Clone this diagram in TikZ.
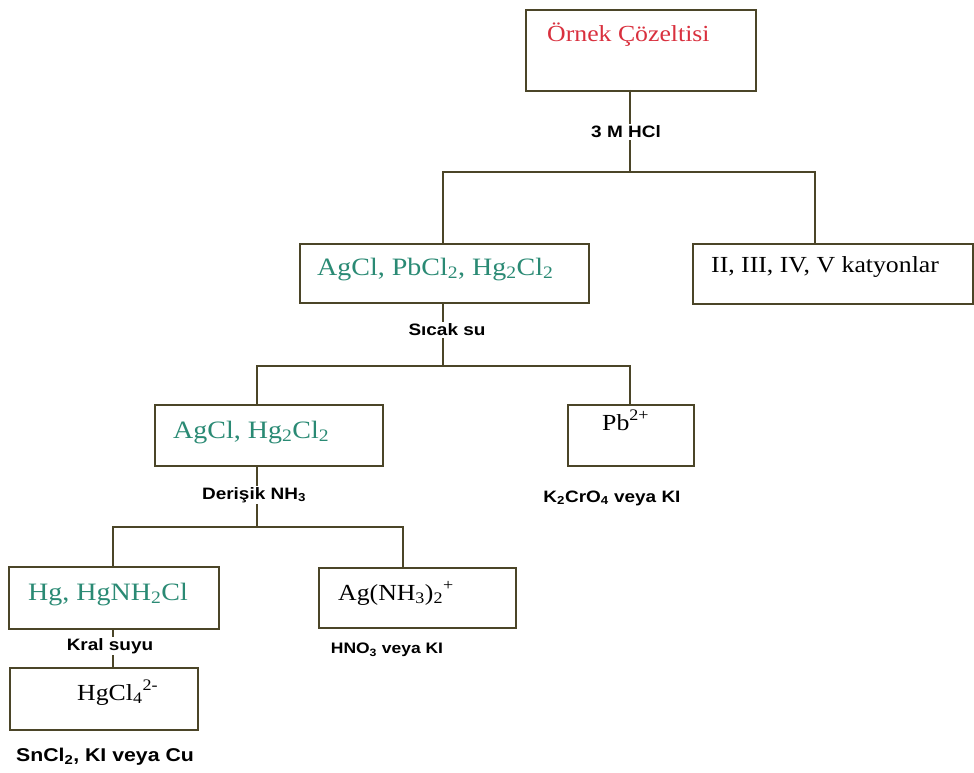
\documentclass[tikz,border=0pt]{standalone}
\usepackage{fontspec}
\newfontfamily\bxf[FakeStretch=1.12]{Liberation Serif}
\newfontfamily\lbf[FakeStretch=1.15]{Liberation Sans}
\definecolor{brd}{HTML}{4B4528}
\definecolor{rd}{HTML}{D9303E}
\definecolor{grn}{HTML}{2A8A74}
\begin{document}
\begin{tikzpicture}[x=1pt,y=-1pt,
  bx/.style={draw=brd, line width=1.8pt, rectangle, inner sep=0pt, anchor=north west},
  ln/.style={draw=brd, line width=1.5pt},
  lab/.style={fill=white, inner sep=1.5pt, text=black, font=\lbf\bfseries\fontsize{16.5}{18}\selectfont},
  tb/.style={anchor=base west, inner sep=0pt, text=black, font=\bxf\fontsize{23}{26}\selectfont},
  tg/.style={tb, text=grn, font=\bxf\fontsize{25}{28}\selectfont}]
\fill[white] (0,0) rectangle (974,773);
\useasboundingbox (0,0) rectangle (974,773);

% boxes
\node[bx, minimum width=230pt, minimum height=81pt] (top) at (525,9) {};
\node[bx, minimum width=289pt, minimum height=59pt] (agpb) at (299,243) {};
\node[bx, minimum width=280pt, minimum height=60pt] (rest) at (692,243) {};
\node[bx, minimum width=228pt, minimum height=61pt] (aghg) at (154,404) {};
\node[bx, minimum width=126pt, minimum height=61pt] (pb) at (567,404) {};
\node[bx, minimum width=210pt, minimum height=62pt] (hg) at (8,566) {};
\node[bx, minimum width=197pt, minimum height=60pt] (ag) at (318,567) {};
\node[bx, minimum width=188pt, minimum height=62pt] (hgcl) at (9,667) {};

% box texts
\node[tb, text=rd] (ttop) at (547,42) {Örnek Çözeltisi};
\node[tg] (tagpb) at (317,275) {AgCl, PbCl\textsubscript{2}, Hg\textsubscript{2}Cl\textsubscript{2}};
\node[tb] (trest) at (711,272) {II, III, IV, V katyonlar};
\node[tg] (taghg) at (173,438) {AgCl, Hg\textsubscript{2}Cl\textsubscript{2}};
\node[tb] (tpb) at (602,430) {Pb\textsuperscript{2+}};
\node[tg] (thg) at (28,600) {Hg, HgNH\textsubscript{2}Cl};
\node[tb] (tag) at (338,600) {Ag(NH\textsubscript{3})\textsubscript{2}\textsuperscript{+}};
\node[tb] (thgcl) at (77,700) {HgCl\textsubscript{4}\textsuperscript{2-}};

% junction coordinates
\coordinate (t0) at (630,90);
\coordinate (j1) at (630,172);
\coordinate (d1l) at (443,243);
\coordinate (d1r) at (815,243);
\coordinate (s2) at (443,302);
\coordinate (j2) at (443,366);
\coordinate (d2l) at (257,404);
\coordinate (d2r) at (630,404);
\coordinate (s3) at (257,465);
\coordinate (j3) at (257,527);
\coordinate (d3l) at (113,566);
\coordinate (d3r) at (403,567);
\coordinate (s4) at (113,628);
\coordinate (d4) at (113,667);

% connectors
\draw[ln] (t0) -- (j1);
\draw[ln] (d1l) |- (j1) -| (d1r);
\draw[ln] (s2) -- (j2);
\draw[ln] (d2l) |- (j2) -| (d2r);
\draw[ln] (s3) -- (j3);
\draw[ln] (d3l) |- (j3) -| (d3r);
\draw[ln] (s4) -- (d4);

% labels
\node[lab] (lhcl) at (626,132) {3 M HCl};
\node[lab] (lsu) at (447,330) {Sıcak su};
\node[lab] (lnh) at (254,495) {Derişik NH\textsubscript{3}};
\node[lab] (lkr) at (612,498) {K\textsubscript{2}CrO\textsubscript{4} veya KI};
\node[lab, font=\lbf\bfseries\fontsize{15.2}{17}\selectfont] (lhno) at (387,650) {HNO\textsubscript{3} veya KI};
\node[lab] (lkral) at (110,646) {Kral suyu};
\node[lab, font=\lbf\bfseries\fontsize{18.5}{20}\selectfont] (lsn) at (105,757) {SnCl\textsubscript{2}, KI veya Cu};
\end{tikzpicture}
\end{document}
